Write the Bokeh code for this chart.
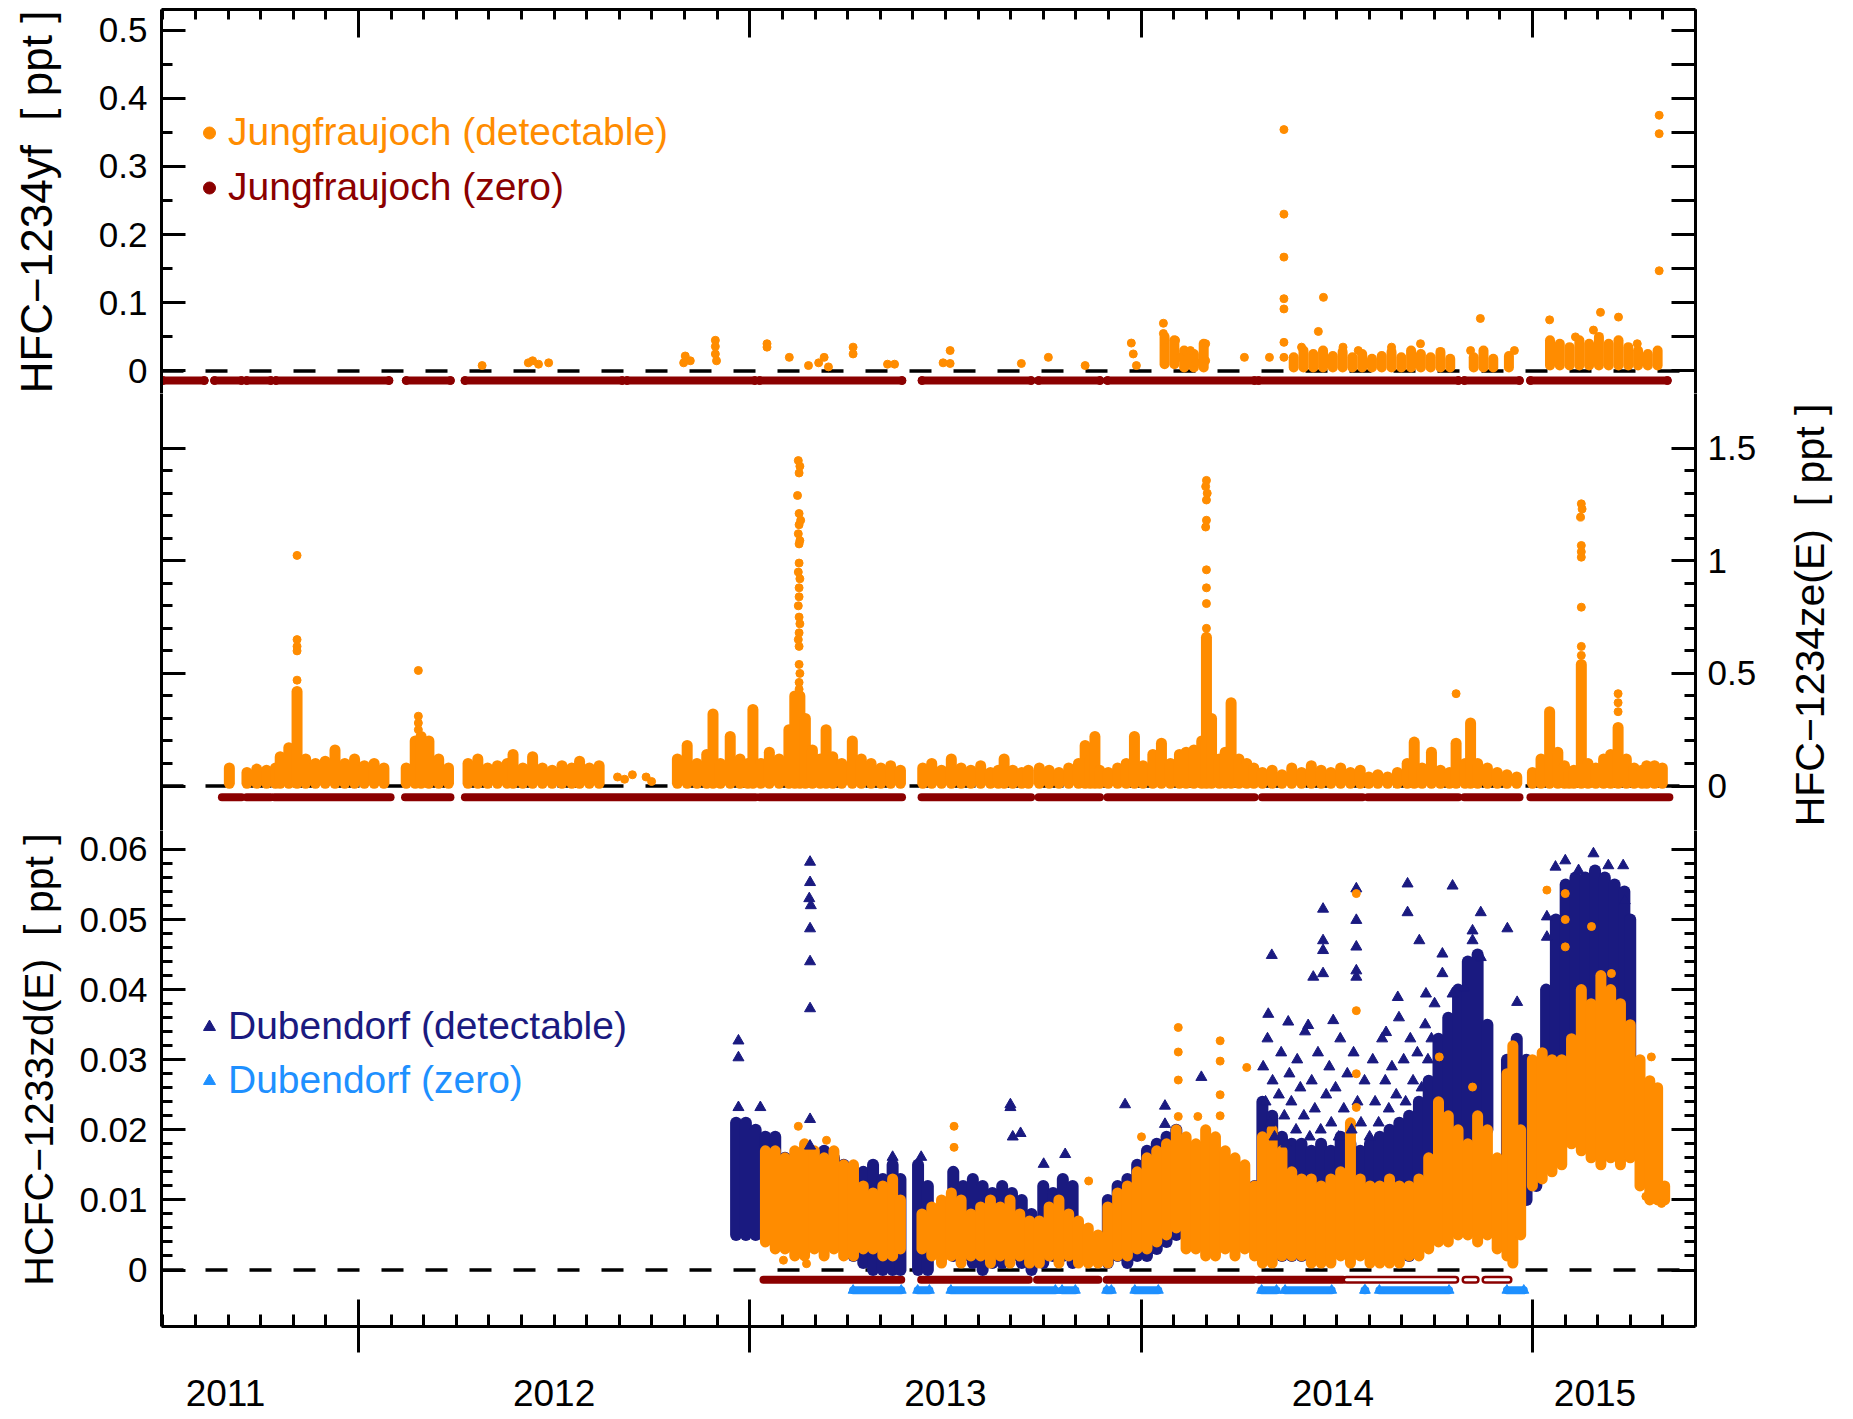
import math
from bokeh.plotting import figure
from bokeh.models import Range1d, LinearAxis, FixedTicker, Span, Legend, LegendItem, Label
from bokeh.layouts import column, row
from bokeh.embed import file_html
from bokeh.resources import INLINE

# ---------------- axis / tick data ----------------
year_labels = ["2011", "2012", "2013", "2014", "2015"]
year_label_pos = [2011.66, 2012.50, 2013.50, 2014.49, 2015.16]
year_bounds = [2012.0, 2013.0, 2014.0, 2015.0]
month_ticks = [2011 + i / 12 for i in range(60)]

yf_ticks = [0, 0.1, 0.2, 0.3, 0.4, 0.5]
yf_tick_labels = ["0", "0.1", "0.2", "0.3", "0.4", "0.5"]
yf_minor = [0.05, 0.15, 0.25, 0.35, 0.45]
yf_right_ticks = [0, 0.05, 0.1, 0.15, 0.2, 0.25, 0.3, 0.35, 0.4, 0.45, 0.5]
ze_ticks = [0, 0.5, 1.0, 1.5]
ze_tick_labels = ["0", "0.5", "1", "1.5"]
ze_minor = [0.1, 0.2, 0.3, 0.4, 0.6, 0.7, 0.8, 0.9, 1.1, 1.2, 1.3, 1.4]
zd_ticks = [0, 0.01, 0.02, 0.03, 0.04, 0.05, 0.06]
zd_tick_labels = ["0", "0.01", "0.02", "0.03", "0.04", "0.05", "0.06"]
zd_minor = [round(i * 0.002, 3) for i in range(31)]

title_yf = "HFC\u22121234yf\u00a0 [ ppt ]"
title_ze = "HFC\u22121234ze(E)\u00a0 [ ppt ]"
title_zd = "HCFC\u22121233zd(E)\u00a0 [ ppt ]"

# ---------------- HFC-1234yf (Jungfraujoch) ----------------
yf_zero_start = [2011.500, 2011.632, 2011.714, 2011.789, 2012.122, 2012.272, 2012.686,
                 2013.025, 2013.440, 2013.738, 2013.914, 2014.300, 2014.826, 2014.995]
yf_zero_end = [2011.606, 2011.701, 2011.776, 2012.078, 2012.235, 2012.674, 2013.013,
               2013.389, 2013.719, 2013.895, 2014.290, 2014.811, 2014.967, 2015.345]
yf_band_t = [2014.060, 2014.085, 2014.110, 2014.135, 2014.160,
             2014.390, 2014.415, 2014.440, 2014.465, 2014.490, 2014.515, 2014.540, 2014.565,
             2014.590, 2014.615, 2014.640, 2014.665, 2014.690, 2014.715, 2014.740, 2014.765,
             2014.790, 2014.850, 2014.875, 2014.900, 2014.940,
             2015.045, 2015.070, 2015.095, 2015.120, 2015.145, 2015.170, 2015.195, 2015.220,
             2015.245, 2015.270, 2015.295, 2015.320]
yf_band_lo = [0.010, 0.010, 0.005, 0.005, 0.005,
              0.005, 0.005, 0.005, 0.005, 0.005, 0.005, 0.005, 0.005,
              0.005, 0.005, 0.005, 0.005, 0.005, 0.005, 0.005, 0.005,
              0.005, 0.005, 0.005, 0.005, 0.005,
              0.008, 0.008, 0.008, 0.008, 0.008, 0.008, 0.008, 0.008,
              0.008, 0.008, 0.008, 0.008]
yf_band_hi = [0.050, 0.045, 0.030, 0.025, 0.040,
              0.020, 0.030, 0.025, 0.030, 0.022, 0.028, 0.020, 0.025,
              0.018, 0.022, 0.028, 0.020, 0.030, 0.025, 0.020, 0.028,
              0.018, 0.020, 0.030, 0.018, 0.022,
              0.045, 0.040, 0.035, 0.045, 0.040, 0.050, 0.040, 0.045,
              0.035, 0.030, 0.025, 0.030]
yf_pts_t = [2012.316, 2012.434, 2012.445, 2012.460, 2012.486, 2012.831, 2012.835, 2012.848,
            2012.912, 2012.912, 2012.912, 2012.915, 2013.044, 2013.044, 2013.101, 2013.150,
            2013.176, 2013.190, 2013.201, 2013.264, 2013.264, 2013.352, 2013.370, 2013.494,
            2013.512, 2013.512, 2013.694, 2013.763, 2013.857, 2013.975, 2013.980, 2013.988,
            2014.057, 2014.057, 2014.060, 2014.088, 2014.100, 2014.126, 2014.140, 2014.165,
            2014.165, 2014.264, 2014.328, 2014.365, 2014.365, 2014.365, 2014.365, 2014.365,
            2014.365, 2014.365, 2014.410, 2014.453, 2014.466, 2014.516, 2014.555, 2014.640,
            2014.714, 2014.842, 2014.867, 2014.954, 2015.044, 2015.110, 2015.156, 2015.174,
            2015.220, 2015.268, 2015.324, 2015.324, 2015.324]
yf_pts_v = [0.008, 0.012, 0.015, 0.010, 0.012, 0.012, 0.022, 0.015,
            0.045, 0.036, 0.025, 0.015, 0.040, 0.035, 0.020, 0.008,
            0.012, 0.020, 0.006, 0.035, 0.025, 0.010, 0.010, 0.012,
            0.030, 0.011, 0.011, 0.020, 0.008, 0.041, 0.025, 0.008,
            0.070, 0.055, 0.035, 0.045, 0.020, 0.030, 0.012, 0.040,
            0.015, 0.020, 0.020, 0.354, 0.230, 0.167, 0.106, 0.091,
            0.042, 0.020, 0.035, 0.058, 0.108, 0.035, 0.030, 0.035,
            0.040, 0.030, 0.077, 0.030, 0.075, 0.050, 0.060, 0.086,
            0.079, 0.040, 0.375, 0.348, 0.147]

# ---------------- HFC-1234ze(E) (Jungfraujoch) ----------------
ze_zero_start = [2011.651, 2011.714, 2011.785, 2012.119, 2012.272, 2013.025, 2013.439,
                 2013.738, 2013.914, 2014.309, 2014.579, 2014.826, 2014.995]
ze_zero_end = [2011.701, 2011.776, 2012.082, 2012.235, 2013.015, 2013.389, 2013.719,
               2013.895, 2014.290, 2014.566, 2014.811, 2014.967, 2015.350]
ze_band_floor = 0.012
ze_band_t = [2011.670, 2011.715, 2011.740, 2011.765, 2011.788, 2011.800, 2011.822, 2011.843,
             2011.865, 2011.890, 2011.915, 2011.940, 2011.965, 2011.990, 2012.015, 2012.040,
             2012.065, 2012.122, 2012.145, 2012.160, 2012.180, 2012.205, 2012.230, 2012.280,
             2012.305, 2012.330, 2012.355, 2012.380, 2012.395, 2012.420, 2012.445, 2012.470,
             2012.495, 2012.520, 2012.545, 2012.565, 2012.590, 2012.615, 2012.815, 2012.840,
             2012.865, 2012.890, 2012.906, 2012.925, 2012.950, 2012.975, 2012.995, 2013.008,
             2013.028, 2013.050, 2013.075, 2013.100, 2013.115, 2013.128, 2013.142, 2013.160,
             2013.180, 2013.195, 2013.212, 2013.235, 2013.262, 2013.285, 2013.310, 2013.335,
             2013.360, 2013.385, 2013.442, 2013.465, 2013.490, 2013.515, 2013.540, 2013.565,
             2013.590, 2013.615, 2013.635, 2013.650, 2013.672, 2013.695, 2013.712, 2013.740,
             2013.765, 2013.790, 2013.815, 2013.840, 2013.857, 2013.870, 2013.882, 2013.894,
             2013.916, 2013.940, 2013.962, 2013.983, 2014.005, 2014.030, 2014.052, 2014.075,
             2014.098, 2014.115, 2014.135, 2014.155, 2014.167, 2014.180, 2014.200, 2014.215,
             2014.230, 2014.250, 2014.270, 2014.288, 2014.310, 2014.335, 2014.360, 2014.385,
             2014.410, 2014.435, 2014.460, 2014.485, 2014.510, 2014.535, 2014.560, 2014.582,
             2014.605, 2014.630, 2014.655, 2014.680, 2014.698, 2014.718, 2014.742, 2014.765,
             2014.788, 2014.805, 2014.828, 2014.842, 2014.860, 2014.885, 2014.910, 2014.935,
             2014.960, 2015.000, 2015.022, 2015.044, 2015.065, 2015.082, 2015.094, 2015.106,
             2015.125, 2015.142, 2015.162, 2015.182, 2015.200, 2015.219, 2015.240, 2015.260,
             2015.280, 2015.292, 2015.312, 2015.332]
ze_band_hi = [0.08, 0.06, 0.075, 0.07, 0.08, 0.13, 0.17, 0.42,
              0.12, 0.10, 0.11, 0.16, 0.10, 0.12, 0.09, 0.10,
              0.08, 0.08, 0.20, 0.22, 0.20, 0.12, 0.08, 0.10,
              0.12, 0.08, 0.09, 0.10, 0.14, 0.08, 0.13, 0.08,
              0.07, 0.09, 0.08, 0.11, 0.08, 0.09, 0.12, 0.18,
              0.10, 0.14, 0.32, 0.10, 0.22, 0.12, 0.10, 0.34,
              0.10, 0.15, 0.12, 0.25, 0.40, 0.40, 0.30, 0.16,
              0.12, 0.25, 0.13, 0.10, 0.20, 0.12, 0.10, 0.08,
              0.09, 0.07, 0.08, 0.10, 0.07, 0.12, 0.08, 0.07,
              0.09, 0.06, 0.07, 0.12, 0.07, 0.06, 0.07, 0.08,
              0.07, 0.06, 0.08, 0.10, 0.18, 0.12, 0.22, 0.07,
              0.06, 0.08, 0.10, 0.22, 0.09, 0.14, 0.19, 0.10,
              0.14, 0.15, 0.16, 0.20, 0.66, 0.30, 0.12, 0.15,
              0.37, 0.12, 0.10, 0.08, 0.06, 0.07, 0.05, 0.08,
              0.06, 0.09, 0.07, 0.06, 0.08, 0.06, 0.07, 0.04,
              0.05, 0.04, 0.06, 0.10, 0.195, 0.08, 0.15, 0.07,
              0.06, 0.19, 0.10, 0.28, 0.10, 0.08, 0.06, 0.05,
              0.04, 0.06, 0.12, 0.33, 0.15, 0.09, 0.06, 0.07,
              0.54, 0.10, 0.08, 0.12, 0.14, 0.26, 0.12, 0.08,
              0.07, 0.09, 0.09, 0.08]
ze_pts_t = [2011.843, 2011.843, 2011.843, 2011.843, 2011.843,
            2012.153, 2012.153, 2012.153, 2012.153,
            2012.662, 2012.680, 2012.700, 2012.735, 2012.749,
            2013.124, 2013.128, 2013.126, 2013.122, 2013.126, 2013.130, 2013.126, 2013.124,
            2013.128, 2013.126, 2013.126, 2013.124, 2013.128, 2013.126, 2013.126, 2013.124,
            2013.126, 2013.128, 2013.126, 2013.124, 2013.126, 2013.126, 2013.128, 2013.126,
            2013.126,
            2014.167, 2014.165, 2014.169, 2014.167, 2014.167, 2014.165, 2014.167, 2014.167,
            2014.167, 2014.167,
            2014.805, 2015.125, 2015.127, 2015.123, 2015.125, 2015.125, 2015.125, 2015.125,
            2015.125, 2015.125, 2015.219, 2015.219, 2015.219]
ze_pts_v = [1.024, 0.65, 0.62, 0.60, 0.47,
            0.513, 0.31, 0.28, 0.25,
            0.04, 0.03, 0.05, 0.04, 0.02,
            1.445, 1.42, 1.39, 1.29, 1.21, 1.18, 1.16, 1.12,
            1.09, 1.075, 0.99, 0.95, 0.92, 0.88, 0.84, 0.80,
            0.75, 0.72, 0.68, 0.65, 0.62, 0.54, 0.50, 0.46,
            0.43,
            1.357, 1.33, 1.30, 1.27, 1.18, 1.15, 0.96, 0.88,
            0.81, 0.70,
            0.41, 1.253, 1.23, 1.194, 1.068, 1.04, 1.016, 0.794,
            0.62, 0.58, 0.41, 0.37, 0.33]

# ---------------- HCFC-1233zd(E) ----------------
# Jungfraujoch
zd_jfj_zero_start = [2013.035, 2013.438, 2013.734, 2013.912, 2014.300]
zd_jfj_zero_end = [2013.387, 2013.713, 2013.891, 2014.287, 2014.516]
zd_jfj_open_start = [2014.525, 2014.829, 2014.880]
zd_jfj_open_end = [2014.803, 2014.855, 2014.939]
zd_jfj_band_t = [2013.040, 2013.065, 2013.090, 2013.115, 2013.140, 2013.165, 2013.190, 2013.215,
                 2013.240, 2013.265, 2013.290, 2013.315, 2013.340, 2013.365, 2013.385, 2013.440,
                 2013.465, 2013.490, 2013.515, 2013.540, 2013.565, 2013.590, 2013.615, 2013.640,
                 2013.665, 2013.690, 2013.715, 2013.740, 2013.765, 2013.790, 2013.815, 2013.840,
                 2013.865, 2013.890, 2013.915, 2013.940, 2013.965, 2013.990, 2014.015, 2014.040,
                 2014.065, 2014.090, 2014.115, 2014.140, 2014.165, 2014.190, 2014.215, 2014.240,
                 2014.265, 2014.290, 2014.310, 2014.335, 2014.360, 2014.385, 2014.410, 2014.435,
                 2014.460, 2014.485, 2014.510, 2014.535, 2014.560, 2014.585, 2014.610, 2014.635,
                 2014.660, 2014.685, 2014.710, 2014.735, 2014.760, 2014.785, 2014.810, 2014.835,
                 2014.860, 2014.885, 2014.910, 2014.935, 2014.950, 2014.970, 2015.000, 2015.025,
                 2015.050, 2015.075, 2015.100, 2015.125, 2015.150, 2015.175, 2015.200, 2015.225,
                 2015.250, 2015.275, 2015.300, 2015.320, 2015.338]
zd_jfj_band_lo = [0.004, 0.003, 0.003, 0.002, 0.002, 0.003, 0.002, 0.003,
                  0.002, 0.002, 0.003, 0.003, 0.002, 0.002, 0.003, 0.003,
                  0.002, 0.001, 0.002, 0.001, 0.002, 0.002, 0.001, 0.002,
                  0.001, 0.002, 0.001, 0.001, 0.002, 0.001, 0.002, 0.001,
                  0.001, 0.001, 0.001, 0.002, 0.002, 0.003, 0.003, 0.004,
                  0.005, 0.006, 0.003, 0.003, 0.002, 0.002, 0.003, 0.002,
                  0.003, 0.002, 0.001, 0.001, 0.002, 0.002, 0.002, 0.001,
                  0.001, 0.001, 0.002, 0.001, 0.002, 0.001, 0.001, 0.001,
                  0.001, 0.002, 0.002, 0.003, 0.004, 0.004, 0.005, 0.005,
                  0.004, 0.005, 0.003, 0.002, 0.001, 0.005, 0.012, 0.013,
                  0.014, 0.015, 0.018, 0.017, 0.016, 0.015, 0.016, 0.015,
                  0.016, 0.012, 0.010, 0.010, 0.010]
zd_jfj_band_hi = [0.017, 0.017, 0.016, 0.017, 0.018, 0.017, 0.016, 0.017,
                  0.015, 0.015, 0.012, 0.011, 0.012, 0.013, 0.010, 0.008,
                  0.009, 0.010, 0.011, 0.010, 0.008, 0.009, 0.010, 0.009,
                  0.010, 0.008, 0.007, 0.007, 0.009, 0.010, 0.008, 0.007,
                  0.006, 0.005, 0.009, 0.011, 0.012, 0.014, 0.016, 0.017,
                  0.018, 0.020, 0.019, 0.018, 0.020, 0.019, 0.017, 0.016,
                  0.015, 0.012, 0.019, 0.020, 0.017, 0.014, 0.013, 0.013,
                  0.012, 0.013, 0.014, 0.021, 0.013, 0.012, 0.012, 0.013,
                  0.012, 0.012, 0.013, 0.016, 0.024, 0.022, 0.020, 0.018,
                  0.022, 0.020, 0.016, 0.028, 0.032, 0.020, 0.030, 0.031,
                  0.030, 0.030, 0.033, 0.040, 0.038, 0.042, 0.040, 0.038,
                  0.035, 0.030, 0.027, 0.026, 0.012]
zd_jfj_pts_t = [2013.124, 2013.196, 2013.522, 2013.522, 2013.086, 2013.145, 2013.866, 2014.001,
                2014.095, 2014.095, 2014.095, 2014.095, 2014.145, 2014.202, 2014.202, 2014.202,
                2014.202, 2014.270, 2014.550, 2014.550, 2014.550, 2014.550, 2014.762, 2014.847,
                2015.037, 2015.084, 2015.084, 2015.084, 2015.151, 2015.202, 2015.304, 2015.290,
                2015.330]
zd_jfj_pts_v = [0.0205, 0.0185, 0.0205, 0.0175, 0.0014, 0.0009, 0.0127, 0.0190,
                0.0346, 0.0311, 0.0271, 0.0219, 0.0219, 0.0327, 0.0298, 0.0250,
                0.0220, 0.0289, 0.0537, 0.0370, 0.0280, 0.0232, 0.0304, 0.0261,
                0.0542, 0.0537, 0.0500, 0.0461, 0.0490, 0.0423, 0.0304, 0.0105,
                0.0095]
# Dubendorf
zd_dub_zero_start = [2013.264, 2013.429, 2013.514, 2013.798, 2013.912, 2013.984, 2014.308,
                     2014.368, 2014.571, 2014.609, 2014.935]
zd_dub_zero_end = [2013.387, 2013.459, 2013.781, 2013.832, 2013.924, 2014.044, 2014.346,
                   2014.487, 2014.573, 2014.787, 2014.978]
zd_dub_band_t = [2012.965, 2012.990, 2013.015, 2013.040, 2013.065, 2013.090, 2013.115, 2013.140,
                 2013.165, 2013.190, 2013.215, 2013.240, 2013.265, 2013.290, 2013.315, 2013.340,
                 2013.365, 2013.385, 2013.430, 2013.455, 2013.520, 2013.545, 2013.570, 2013.595,
                 2013.620, 2013.645, 2013.670, 2013.695, 2013.720, 2013.750, 2013.775, 2013.800,
                 2013.825, 2013.915, 2013.940, 2013.965, 2013.990, 2014.015, 2014.040, 2014.065,
                 2014.090, 2014.115, 2014.140, 2014.165, 2014.190, 2014.215, 2014.240, 2014.265,
                 2014.290, 2014.310, 2014.335, 2014.360, 2014.385, 2014.410, 2014.435, 2014.460,
                 2014.485, 2014.510, 2014.535, 2014.560, 2014.585, 2014.610, 2014.635, 2014.660,
                 2014.685, 2014.710, 2014.735, 2014.760, 2014.785, 2014.810, 2014.835, 2014.860,
                 2014.885, 2014.935, 2014.960, 2014.985, 2015.010, 2015.035, 2015.060, 2015.085,
                 2015.110, 2015.135, 2015.160, 2015.185, 2015.210, 2015.235, 2015.250]
zd_dub_band_lo = [0.005, 0.005, 0.005, 0.006, 0.008, 0.010, 0.011, 0.010,
                  0.008, 0.008, 0.006, 0.004, 0.002, 0.001, 0.000, 0.000,
                  0.000, 0.000, 0.000, 0.000, 0.002, 0.002, 0.001, 0.000,
                  0.001, 0.001, 0.002, 0.001, 0.000, 0.001, 0.002, 0.002,
                  0.001, 0.001, 0.002, 0.001, 0.002, 0.002, 0.003, 0.004,
                  0.005, 0.005, 0.005, 0.005, 0.005, 0.005, 0.005, 0.005,
                  0.005, 0.003, 0.003, 0.002, 0.002, 0.002, 0.002, 0.002,
                  0.002, 0.003, 0.003, 0.004, 0.003, 0.003, 0.002, 0.002,
                  0.002, 0.003, 0.004, 0.007, 0.010, 0.012, 0.015, 0.018,
                  0.020, 0.015, 0.012, 0.010, 0.012, 0.018, 0.022, 0.026,
                  0.028, 0.030, 0.028, 0.026, 0.025, 0.025, 0.028]
zd_dub_band_hi = [0.021, 0.021, 0.020, 0.019, 0.019, 0.016, 0.016, 0.017,
                  0.016, 0.017, 0.016, 0.015, 0.014, 0.014, 0.015, 0.013,
                  0.015, 0.013, 0.015, 0.012, 0.014, 0.012, 0.013, 0.012,
                  0.011, 0.012, 0.011, 0.010, 0.008, 0.012, 0.011, 0.013,
                  0.012, 0.010, 0.012, 0.013, 0.015, 0.017, 0.018, 0.019,
                  0.020, 0.013, 0.012, 0.012, 0.011, 0.012, 0.011, 0.012,
                  0.012, 0.024, 0.022, 0.019, 0.018, 0.018, 0.017, 0.018,
                  0.017, 0.019, 0.018, 0.017, 0.018, 0.019, 0.020, 0.021,
                  0.022, 0.024, 0.027, 0.033, 0.036, 0.040, 0.044, 0.045,
                  0.035, 0.030, 0.033, 0.030, 0.028, 0.040, 0.050, 0.055,
                  0.056, 0.056, 0.057, 0.056, 0.055, 0.054, 0.050]
zd_dub_pts_t = [2012.971, 2012.971, 2012.971, 2013.027, 2013.154, 2013.154, 2013.152, 2013.156,
                2013.154, 2013.154, 2013.154, 2013.154, 2013.154, 2013.365, 2013.438, 2013.666,
                2013.666, 2013.692, 2013.672, 2013.806, 2013.751, 2013.959, 2014.061, 2014.061,
                2014.154, 2014.325, 2014.334, 2014.376, 2014.427, 2014.440, 2014.465, 2014.465,
                2014.465, 2014.465, 2014.491, 2014.550, 2014.550, 2014.550, 2014.550, 2014.550,
                2014.626, 2014.656, 2014.681, 2014.681, 2014.711, 2014.728, 2014.770, 2014.770,
                2014.796, 2014.796, 2014.826, 2014.847, 2014.847, 2014.868, 2014.868, 2014.936,
                2014.961, 2015.037, 2015.037, 2015.059, 2015.084, 2015.118, 2015.156, 2015.194,
                2015.232, 2015.236,
                2014.312, 2014.318, 2014.323, 2014.329, 2014.336, 2014.341, 2014.352, 2014.358,
                2014.366, 2014.371, 2014.379, 2014.384, 2014.396, 2014.399, 2014.407, 2014.416,
                2014.419, 2014.431, 2014.436, 2014.444, 2014.452, 2014.459, 2014.473, 2014.481,
                2014.486, 2014.497, 2014.505, 2014.509, 2014.518, 2014.527, 2014.538, 2014.543,
                2014.553, 2014.562, 2014.571, 2014.584, 2014.592, 2014.598, 2014.607, 2014.616,
                2014.624, 2014.633, 2014.641, 2014.652, 2014.659, 2014.671, 2014.676, 2014.688,
                2014.695, 2014.706, 2014.717, 2014.726, 2014.733, 2014.742, 2014.750]
zd_dub_pts_v = [0.0327, 0.0303, 0.0232, 0.0232, 0.0582, 0.0553, 0.0530, 0.0520,
                0.0487, 0.0440, 0.0373, 0.0215, 0.0177, 0.0161, 0.0161, 0.0236,
                0.0232, 0.0195, 0.0190, 0.0165, 0.0151, 0.0236, 0.0234, 0.0208,
                0.0275, 0.0365, 0.0449, 0.0354, 0.0349, 0.0418, 0.0515, 0.0470,
                0.0456, 0.0423, 0.0356, 0.0544, 0.0499, 0.0461, 0.0427, 0.0418,
                0.0339, 0.0389, 0.0551, 0.0510, 0.0470, 0.0394, 0.0451, 0.0423,
                0.0548, 0.0394, 0.0403, 0.0484, 0.0470, 0.0510, 0.0446, 0.0487,
                0.0382, 0.0504, 0.0475, 0.0575, 0.0584, 0.0570, 0.0594, 0.0577,
                0.0577, 0.0527,
                0.029, 0.024, 0.033, 0.021, 0.027, 0.019, 0.025, 0.031,
                0.022, 0.018, 0.028, 0.024, 0.020, 0.030, 0.026, 0.022,
                0.034, 0.019, 0.027, 0.023, 0.031, 0.020, 0.025, 0.029,
                0.021, 0.026, 0.019, 0.033, 0.023, 0.028, 0.020, 0.031,
                0.024, 0.021, 0.027, 0.019, 0.030, 0.024, 0.021, 0.033,
                0.027, 0.023, 0.029, 0.025, 0.036, 0.030, 0.024, 0.033,
                0.027, 0.031, 0.026, 0.035, 0.030, 0.033, 0.038]

# zero-measurement row offsets (plotting positions just below 0)
yf_zero_row = -0.014
ze_zero_row = -0.050
zd_jfj_zero_row = -0.0014
zd_dub_zero_row = -0.0029

# ---------------- styling ----------------
ORANGE = "#FF8C00"
DARKRED = "#8B0000"
NAVY = "#1A1A80"
LIGHTBLUE = "#1E90FF"
FONT = "Liberation Sans"

STRIP_L, STRIP_R = 62, 85
LB, RB = 161 - STRIP_L, 70
W = LB + 1534 + RB
TOTAL_H = 393 + 437 + 589
X0, X1 = 2011.4966, 2015.4168


def base_fig(height, y0, y1, top, bottom):
    p = figure(width=W, height=height, x_range=Range1d(X0, X1), y_range=Range1d(y0, y1),
               output_backend="svg", toolbar_location=None,
               x_axis_location=None, y_axis_location=None,
               min_border_left=LB, min_border_right=RB,
               min_border_top=top, min_border_bottom=bottom)
    p.outline_line_color = None
    p.grid.visible = False
    p.background_fill_color = "white"
    p.border_fill_color = "white"
    zl = Span(location=0, dimension="width", line_color="black", line_width=3.5,
              line_dash="22 22", level="underlay")
    p.add_layout(zl)
    return p


def strip_fig(width):
    s = figure(width=width, height=TOTAL_H, x_range=Range1d(0, 1), y_range=Range1d(0, 1),
               output_backend="svg", toolbar_location=None,
               x_axis_location=None, y_axis_location=None,
               min_border_left=0, min_border_right=0, min_border_top=0, min_border_bottom=0)
    s.outline_line_color = None
    s.grid.visible = False
    s.background_fill_color = "white"
    s.border_fill_color = "white"
    return s


def mk_axis(ticks, minor, major_in, minor_in, major_out=0, minor_out=0,
            labels=None, font_size="35px", standoff=14):
    ax = LinearAxis(ticker=FixedTicker(ticks=ticks, minor_ticks=minor))
    ax.axis_line_width = 3
    ax.axis_line_color = "black"
    ax.major_tick_line_width = 3
    ax.minor_tick_line_width = 3
    ax.major_tick_line_color = "black"
    ax.minor_tick_line_color = "black"
    ax.major_tick_in = major_in
    ax.major_tick_out = major_out
    ax.minor_tick_in = minor_in
    ax.minor_tick_out = minor_out
    ax.major_label_text_font = FONT
    if labels is None:
        ax.major_label_overrides = {t: "" for t in ticks}
        ax.major_label_text_font_size = "1px"
        ax.major_label_standoff = 0
    else:
        ax.major_label_overrides = dict(zip(ticks, labels))
        ax.major_label_text_font_size = font_size
        ax.major_label_standoff = standoff
        ax.major_label_text_color = "black"
    return ax


def title_label(p, text, x, y, size="41px"):
    lab = Label(x=x, y=y, x_units="screen", y_units="screen", text=text, angle=math.pi / 2,
                text_align="center", text_baseline="middle", text_font=FONT,
                text_font_size=size, text_color="black")
    p.add_layout(lab)


def add_legend(p, renderer, text, color, x, y):
    leg = Legend(items=[LegendItem(label=text, renderers=[renderer])], location=(x, y),
                 padding=0, margin=0, spacing=0, glyph_width=30, glyph_height=45,
                 label_height=45, label_standoff=4, border_line_color=None,
                 background_fill_alpha=0, label_text_font=FONT,
                 label_text_font_size="39px", label_text_color=color)
    p.add_layout(leg)


# ---------------- top panel: HFC-1234yf ----------------
p1 = base_fig(393, -0.0330, 0.5301, 9, 0)
p1.segment(x0=yf_zero_start, y0=yf_zero_row, x1=yf_zero_end, y1=yf_zero_row,
           line_width=8, line_cap="round", line_color=DARKRED)
r_yf_zero = p1.scatter(yf_zero_start + yf_zero_end, [yf_zero_row] * (2 * len(yf_zero_start)),
                       marker="circle", size=8, fill_color=DARKRED, line_color=DARKRED)
p1.segment(x0=yf_band_t, y0=yf_band_lo, x1=yf_band_t, y1=yf_band_hi,
           line_width=10, line_cap="round", line_color=ORANGE)
r_yf = p1.scatter(yf_pts_t, yf_pts_v, marker="circle", size=8, fill_color=ORANGE,
                  line_color=ORANGE)
p1.add_layout(mk_axis(yf_ticks, yf_minor, 24, 11, labels=yf_tick_labels, standoff=14), "left")
p1.add_layout(mk_axis(yf_right_ticks, [], 24, 0), "right")
p1.add_layout(mk_axis(year_bounds, month_ticks, 28, 10), "above")
add_legend(p1, r_yf, "Jungfraujoch (detectable)", ORANGE, 33, 238.5)
add_legend(p1, r_yf_zero, "Jungfraujoch (zero)", DARKRED, 33, 183.5)

# ---------------- middle panel: HFC-1234ze(E) ----------------
p2 = base_fig(437, -0.1976, 1.7429, 0, 0)
p2.segment(x0=ze_zero_start, y0=ze_zero_row, x1=ze_zero_end, y1=ze_zero_row,
           line_width=8, line_cap="round", line_color=DARKRED)
p2.segment(x0=ze_band_t, y0=ze_band_floor, x1=ze_band_t, y1=ze_band_hi,
           line_width=11, line_cap="round", line_color=ORANGE)
p2.scatter(ze_pts_t, ze_pts_v, marker="circle", size=8, fill_color=ORANGE, line_color=ORANGE)
p2.add_layout(mk_axis(ze_ticks, ze_minor, 24, 11), "left")
p2.add_layout(mk_axis(ze_ticks, ze_minor, 24, 11, labels=ze_tick_labels, standoff=12), "right")

# ---------------- bottom panel: HCFC-1233zd(E) ----------------
p3 = base_fig(589, -0.00806, 0.06270, 0, 93)
p3.segment(x0=zd_jfj_zero_start, y0=zd_jfj_zero_row, x1=zd_jfj_zero_end, y1=zd_jfj_zero_row,
           line_width=8, line_cap="round", line_color=DARKRED)
p3.segment(x0=zd_jfj_open_start, y0=zd_jfj_zero_row, x1=zd_jfj_open_end, y1=zd_jfj_zero_row,
           line_width=8, line_cap="round", line_color=DARKRED)
p3.segment(x0=zd_jfj_open_start, y0=zd_jfj_zero_row, x1=zd_jfj_open_end, y1=zd_jfj_zero_row,
           line_width=3, line_cap="round", line_color="white")
p3.segment(x0=zd_dub_zero_start, y0=zd_dub_zero_row, x1=zd_dub_zero_end, y1=zd_dub_zero_row,
           line_width=8, line_cap="round", line_color=LIGHTBLUE)
r_dub_zero = p3.scatter(zd_dub_zero_start + zd_dub_zero_end,
                        [zd_dub_zero_row] * (2 * len(zd_dub_zero_start)),
                        marker="triangle", size=10, fill_color=LIGHTBLUE, line_color=LIGHTBLUE)
p3.segment(x0=zd_dub_band_t, y0=zd_dub_band_lo, x1=zd_dub_band_t, y1=zd_dub_band_hi,
           line_width=12, line_cap="round", line_color=NAVY)
p3.segment(x0=zd_jfj_band_t, y0=zd_jfj_band_lo, x1=zd_jfj_band_t, y1=zd_jfj_band_hi,
           line_width=11, line_cap="round", line_color=ORANGE)
r_dub = p3.scatter(zd_dub_pts_t, zd_dub_pts_v, marker="triangle", size=11,
                   fill_color=NAVY, line_color=NAVY)
p3.scatter(zd_jfj_pts_t, zd_jfj_pts_v, marker="circle", size=8, fill_color=ORANGE,
           line_color=ORANGE)
p3.add_layout(mk_axis(zd_ticks, zd_minor, 24, 11, labels=zd_tick_labels, standoff=14), "left")
p3.add_layout(mk_axis(zd_ticks, zd_minor, 24, 11), "right")
p3.add_layout(mk_axis(year_bounds, month_ticks, 27, 12, major_out=26), "below")
axy = mk_axis(year_label_pos, [], 0, 0, labels=year_labels, font_size="37px", standoff=27)
axy.axis_line_color = None
axy.major_tick_line_color = None
p3.add_layout(axy, "below")
add_legend(p3, r_dub, "Dubendorf (detectable)", NAVY, 33, 277.5)
add_legend(p3, r_dub_zero, "Dubendorf (zero)", LIGHTBLUE, 33, 223.5)

# ---------------- axis titles (vertical text strips) ----------------
left_strip = strip_fig(STRIP_L)
title_label(left_strip, title_yf, 35.5, TOTAL_H - 201.5, "44px")
title_label(left_strip, title_zd, 38.5, TOTAL_H - 1059, "41px")
right_strip = strip_fig(STRIP_R)
title_label(right_strip, title_ze, 1809 - (161 + 1534 + RB), TOTAL_H - 614.5, "41px")

layout = row(left_strip, column(p1, p2, p3, spacing=0), right_strip, spacing=0)
open("out.html", "w").write(file_html(layout, INLINE))
